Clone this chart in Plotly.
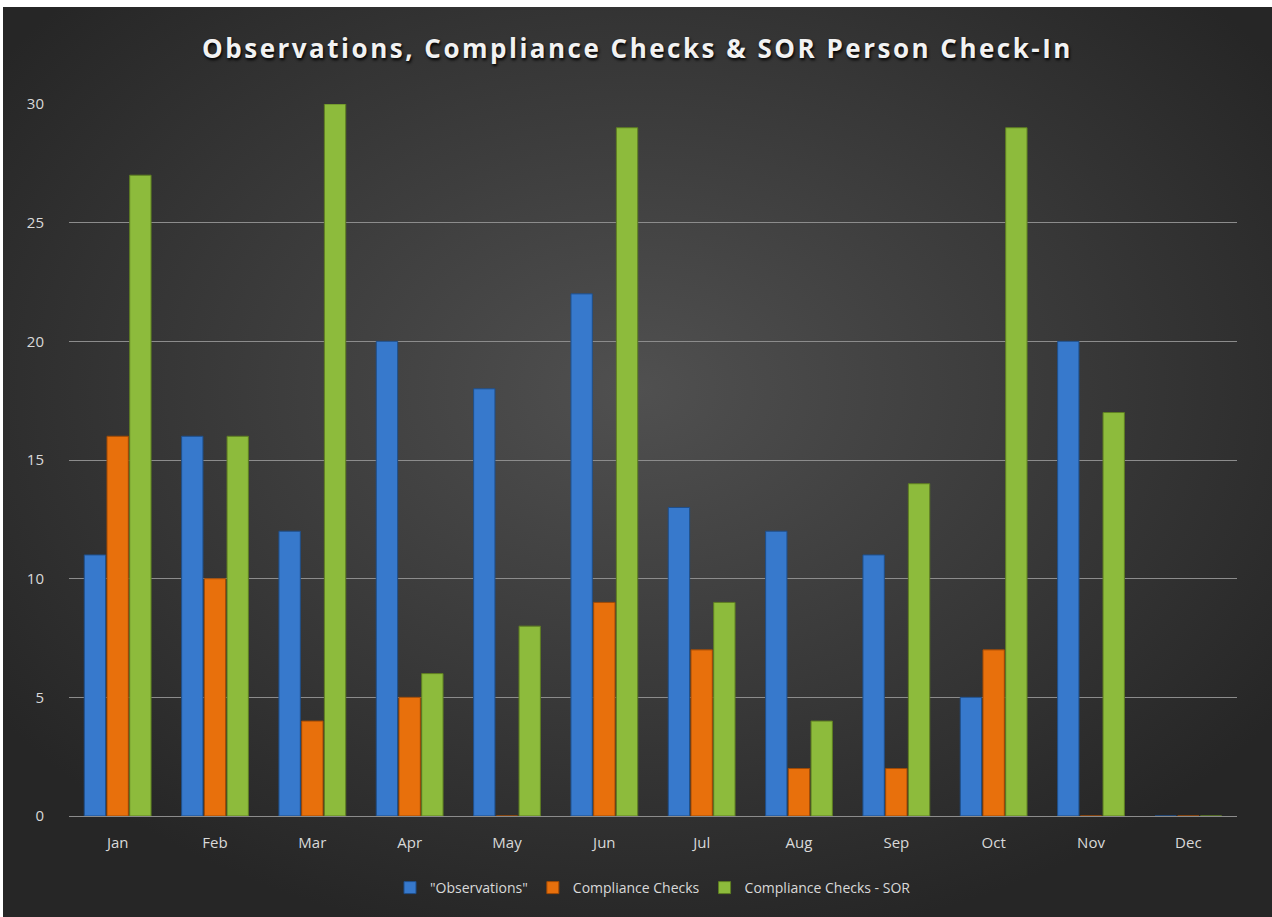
import base64
import plotly.graph_objects as go

months = ["Jan", "Feb", "Mar", "Apr", "May", "Jun", "Jul", "Aug", "Sep", "Oct", "Nov", "Dec"]
observations = [11, 16, 12, 20, 18, 22, 13, 12, 11, 5, 20, 0]
compliance_checks = [16, 10, 4, 5, 0, 9, 7, 2, 2, 7, 0, 0]
compliance_sor = [27, 16, 30, 6, 8, 29, 9, 4, 14, 29, 17, 0]
series_names = ['"Observations"', "Compliance Checks", "Compliance Checks - SOR"]
y_ticks = [0, 5, 10, 15, 20, 25, 30]

colors = ["#3779CC", "#E8700C", "#8DBB3C"]
edge = ["#1F4F8A", "#A14A05", "#5E7E22"]

W, H = 1269, 910
ML, MR, MT, MB = 66, 35, 97, 101

fig = go.Figure()
for name, vals, c, e in zip(series_names, [observations, compliance_checks, compliance_sor], colors, edge):
    fig.add_trace(go.Bar(
        x=months, y=vals, name=name,
        marker=dict(color=c, line=dict(color=e, width=1)),
    ))

svg = (
    f'<svg xmlns="http://www.w3.org/2000/svg" width="{W}" height="{H}" viewBox="0 0 {W} {H}">'
    '<defs><radialGradient id="g" cx="0.5" cy="0.42" r="0.62" gradientUnits="objectBoundingBox">'
    '<stop offset="0" stop-color="#505050"/><stop offset="1" stop-color="#262626"/>'
    '</radialGradient></defs>'
    f'<rect width="{W}" height="{H}" fill="url(#g)"/></svg>'
)
src = "data:image/svg+xml;base64," + base64.b64encode(svg.encode()).decode()
pw = W - ML - MR
ph = H - MT - MB

fig.update_layout(
    width=W, height=H,
    margin=dict(l=ML, r=MR, t=MT, b=MB),
    paper_bgcolor="#2b2b2b",
    plot_bgcolor="rgba(0,0,0,0)",
    images=[dict(
        source=src, xref="paper", yref="paper",
        x=-ML / pw, y=1 + MT / ph, sizex=W / pw, sizey=H / ph,
        xanchor="left", yanchor="top", sizing="stretch", layer="below",
    )],
    title=dict(
        text="<b>Observations, Compliance Checks &amp; SOR Person Check-In</b>",
        x=0.5, xanchor="center", y=1 - 42 / H, yanchor="middle",
        font=dict(family="Open Sans, sans-serif", size=26, color="#F2F2F2",
                  shadow="1px 2px 3px #000000"),
    ),
    font=dict(family="Open Sans, sans-serif", size=15, color="#D9D9D9"),
    barmode="group",
    bargap=0.3,
    bargroupgap=0.06,
    xaxis=dict(
        showgrid=False, zeroline=False, showline=False,
        ticks="", ticklabelstandoff=16, tickfont=dict(size=15, color="#D9D9D9"),
    ),
    yaxis=dict(
        range=[0, 30], tickvals=y_ticks,
        showgrid=True, gridcolor="#8C8C8C", gridwidth=1,
        zeroline=True, zerolinecolor="#8C8C8C", zerolinewidth=1,
        showline=False, ticks="", ticklabelstandoff=24,
        tickfont=dict(size=15, color="#D9D9D9"),
    ),
    legend=dict(
        orientation="h", x=0.5, xanchor="center", y=-(72 / ph), yanchor="middle",
        font=dict(size=14, color="#D9D9D9"), bgcolor="rgba(0,0,0,0)",
        itemwidth=30, traceorder="normal",
    ),
)

post = (
    "document.body.style.margin='7px 0 0 3px';"
    "document.body.style.background='#ffffff';"
    "document.querySelectorAll('.gtitle').forEach(function(t){t.style.letterSpacing='2.5px';});"
)
fig.write_html("out.html", post_script=post)
